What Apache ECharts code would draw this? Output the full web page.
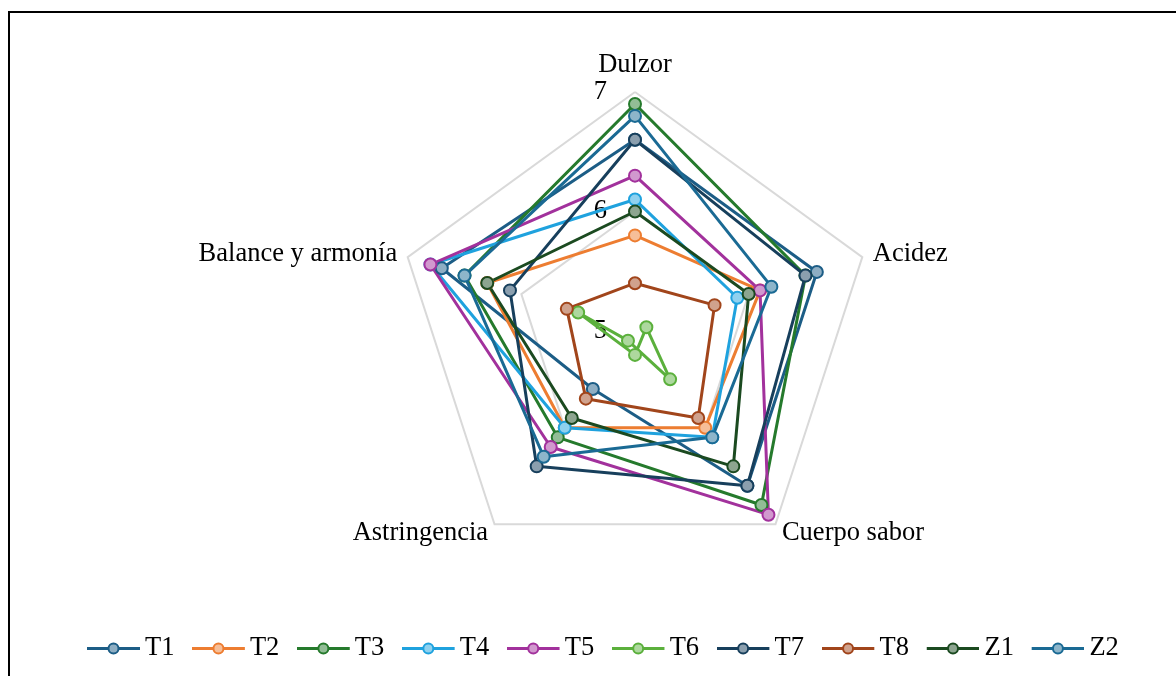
<!DOCTYPE html>
<html>
<head>
<meta charset="utf-8">
<script src="https://cdn.jsdelivr.net/npm/echarts@6/dist/echarts.min.js"></script>
<style>
    html, body { margin: 0; padding: 0; background: #fff; }
    #radarCafe { width: 1176px; height: 676px; }
</style>
</head>
<body>
<div id="radarCafe"></div>
<script>
// atributos sensoriales, en el orden de la figura (sentido horario desde arriba)
var atributos = ['Dulzor', 'Acidez', 'Cuerpo sabor', 'Astringencia', 'Balance y armonía'];
var escalaMin = 5;
var escalaMax = 7;

var T1 = [6.6, 6.6, 6.6, 5.6, 6.7];
var T2 = [5.8, 6.1, 6.0, 6.0, 6.3];
var T3 = [6.9, 6.5, 6.8, 6.1, 6.5];
var T4 = [6.1, 5.9, 6.1, 6.0, 6.8];
var T5 = [6.3, 6.1, 6.9, 6.2, 6.8];
var T6 = [4.8, 5.1, 5.5, 5.1, 5.5];
var T7 = [6.6, 6.5, 6.6, 6.4, 6.1];
var T8 = [5.4, 5.7, 5.9, 5.7, 5.6];
var Z1 = [6.0, 6.0, 6.4, 5.9, 6.3];
var Z2 = [6.8, 6.2, 6.1, 6.3, 6.5];

var nombres = ['T1', 'T2', 'T3', 'T4', 'T5', 'T6', 'T7', 'T8', 'Z1', 'Z2'];
var valores = [T1, T2, T3, T4, T5, T6, T7, T8, Z1, Z2];
var colores = ['#1c5d86', '#ed7d31', '#257a2c', '#1fa2de', '#a2319c',
               '#5bb03c', '#173f5c', '#a1451b', '#1b4a20', '#1a6a94'];

// echarts reparte los ejes en sentido antihorario
var orden = [0, 4, 3, 2, 1];
var fuente = 'Liberation Serif';
var tamTexto = 26.5;

function aclarar(hex, t) {
    var r = parseInt(hex.substr(1, 2), 16), g = parseInt(hex.substr(3, 2), 16), b = parseInt(hex.substr(5, 2), 16);
    r = Math.round(r + (255 - r) * t); g = Math.round(g + (255 - g) * t); b = Math.round(b + (255 - b) * t);
    return 'rgb(' + r + ',' + g + ',' + b + ')';
}

function iconoLeyenda(color) {
    var svg = '<svg xmlns="http://www.w3.org/2000/svg" width="53" height="14" viewBox="0 0 53 14">' +
        '<line x1="0" y1="7" x2="53" y2="7" stroke="' + color + '" stroke-width="3"/>' +
        '<circle cx="26.5" cy="7" r="5" fill="' + aclarar(color, 0.5) + '" stroke="' + color + '" stroke-width="2"/></svg>';
    return 'image://data:image/svg+xml;charset=utf-8,' + encodeURIComponent(svg);
}

var indicadores = orden.map(function (i) {
    var ind = { name: atributos[i], min: escalaMin, max: escalaMax };
    if (i === 0) {
        ind.axisLabel = { show: true, color: '#000', fontSize: tamTexto, fontFamily: fuente, margin: 28 };
    }
    return ind;
});

var series = nombres.map(function (n, k) {
    return {
        name: n,
        type: 'radar',
        symbol: 'circle',
        symbolSize: 12,
        lineStyle: { color: colores[k], width: 3 },
        itemStyle: { color: aclarar(colores[k], 0.5), borderColor: colores[k], borderWidth: 2 },
        data: [{ name: n, value: orden.map(function (i) { return valores[k][i]; }) }]
    };
});

var grafico = echarts.init(document.getElementById('radarCafe'));
grafico.setOption({
    animation: false,
    backgroundColor: '#fff',
    graphic: [{
        type: 'rect',
        shape: { x: 9, y: 12, width: 1300, height: 800 },
        style: { fill: 'none', stroke: '#000', lineWidth: 2 },
        silent: true
    }],
    legend: {
        left: 82,
        top: 630,
        itemWidth: 53,
        itemHeight: 14,
        itemGap: 17.5,
        textStyle: { color: '#000', fontSize: tamTexto, fontFamily: fuente },
        data: nombres.map(function (n, k) { return { name: n, icon: iconoLeyenda(colores[k]) }; })
    },
    radar: {
        center: [635, 331],
        radius: 239,
        shape: 'polygon',
        startAngle: 90,
        splitNumber: 2,
        nameGap: 11,
        axisName: { color: '#000', fontSize: tamTexto, fontFamily: fuente },
        axisLine: { show: false },
        axisTick: { show: false },
        axisLabel: { show: false },
        splitLine: { lineStyle: { color: '#d9d9d9', width: 2 } },
        splitArea: { show: false },
        indicator: indicadores
    },
    series: series
});
</script>
</body>
</html>
